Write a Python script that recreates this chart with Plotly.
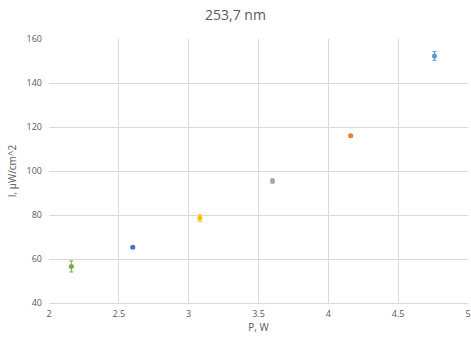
import plotly.graph_objects as go

p_w = [2.60, 4.16, 3.60, 3.08, 4.76, 2.16]
i_uw = [65.3, 116.0, 95.5, 78.6, 152.3, 56.6]
i_err = [0.5, 0.5, 1.0, 1.5, 2.0, 2.5]
colors = ["#4472C4", "#ED7D31", "#A5A5A5", "#FFC000", "#5B9BD5", "#70AD47"]

fig = go.Figure()
for x, y, e, c in zip(p_w, i_uw, i_err, colors):
    fig.add_trace(go.Scatter(
        x=[x], y=[y], mode="markers",
        marker=dict(color=c, size=5, symbol="circle"),
        error_y=dict(type="data", array=[e], color=c, thickness=1, width=2),
        showlegend=False, cliponaxis=False))

font = "Open Sans, Liberation Sans, sans-serif"
fig.update_layout(
    width=471, height=339,
    margin=dict(l=49, r=3, t=39, b=36),
    paper_bgcolor="white", plot_bgcolor="white",
    title=dict(text="253,7 nm", x=0.5, xanchor="center", y=0.955, yanchor="middle",
               font=dict(family=font, size=14, color="#595959")),
    font=dict(family=font, size=9, color="#595959"),
    xaxis=dict(range=[2, 5], dtick=0.5, showgrid=True, gridcolor="#D9D9D9",
               zeroline=False, showline=True, linecolor="#D9D9D9", ticks="",
               automargin=False, ticklabelstandoff=2,
               title=dict(text="P, W", font=dict(size=10, color="#595959"), standoff=4)),
    yaxis=dict(range=[40, 160], dtick=20, showgrid=True, gridcolor="#D9D9D9",
               zeroline=False, showline=False, ticks="", ticklabelstandoff=6,
               automargin=False,
               title=dict(text="I, µW/cm^2", font=dict(size=10, color="#595959"), standoff=8)),
)
fig.write_html("out.html", config={"displayModeBar": False},
               post_script="document.body.style.margin='0';document.body.style.overflow='hidden';")
